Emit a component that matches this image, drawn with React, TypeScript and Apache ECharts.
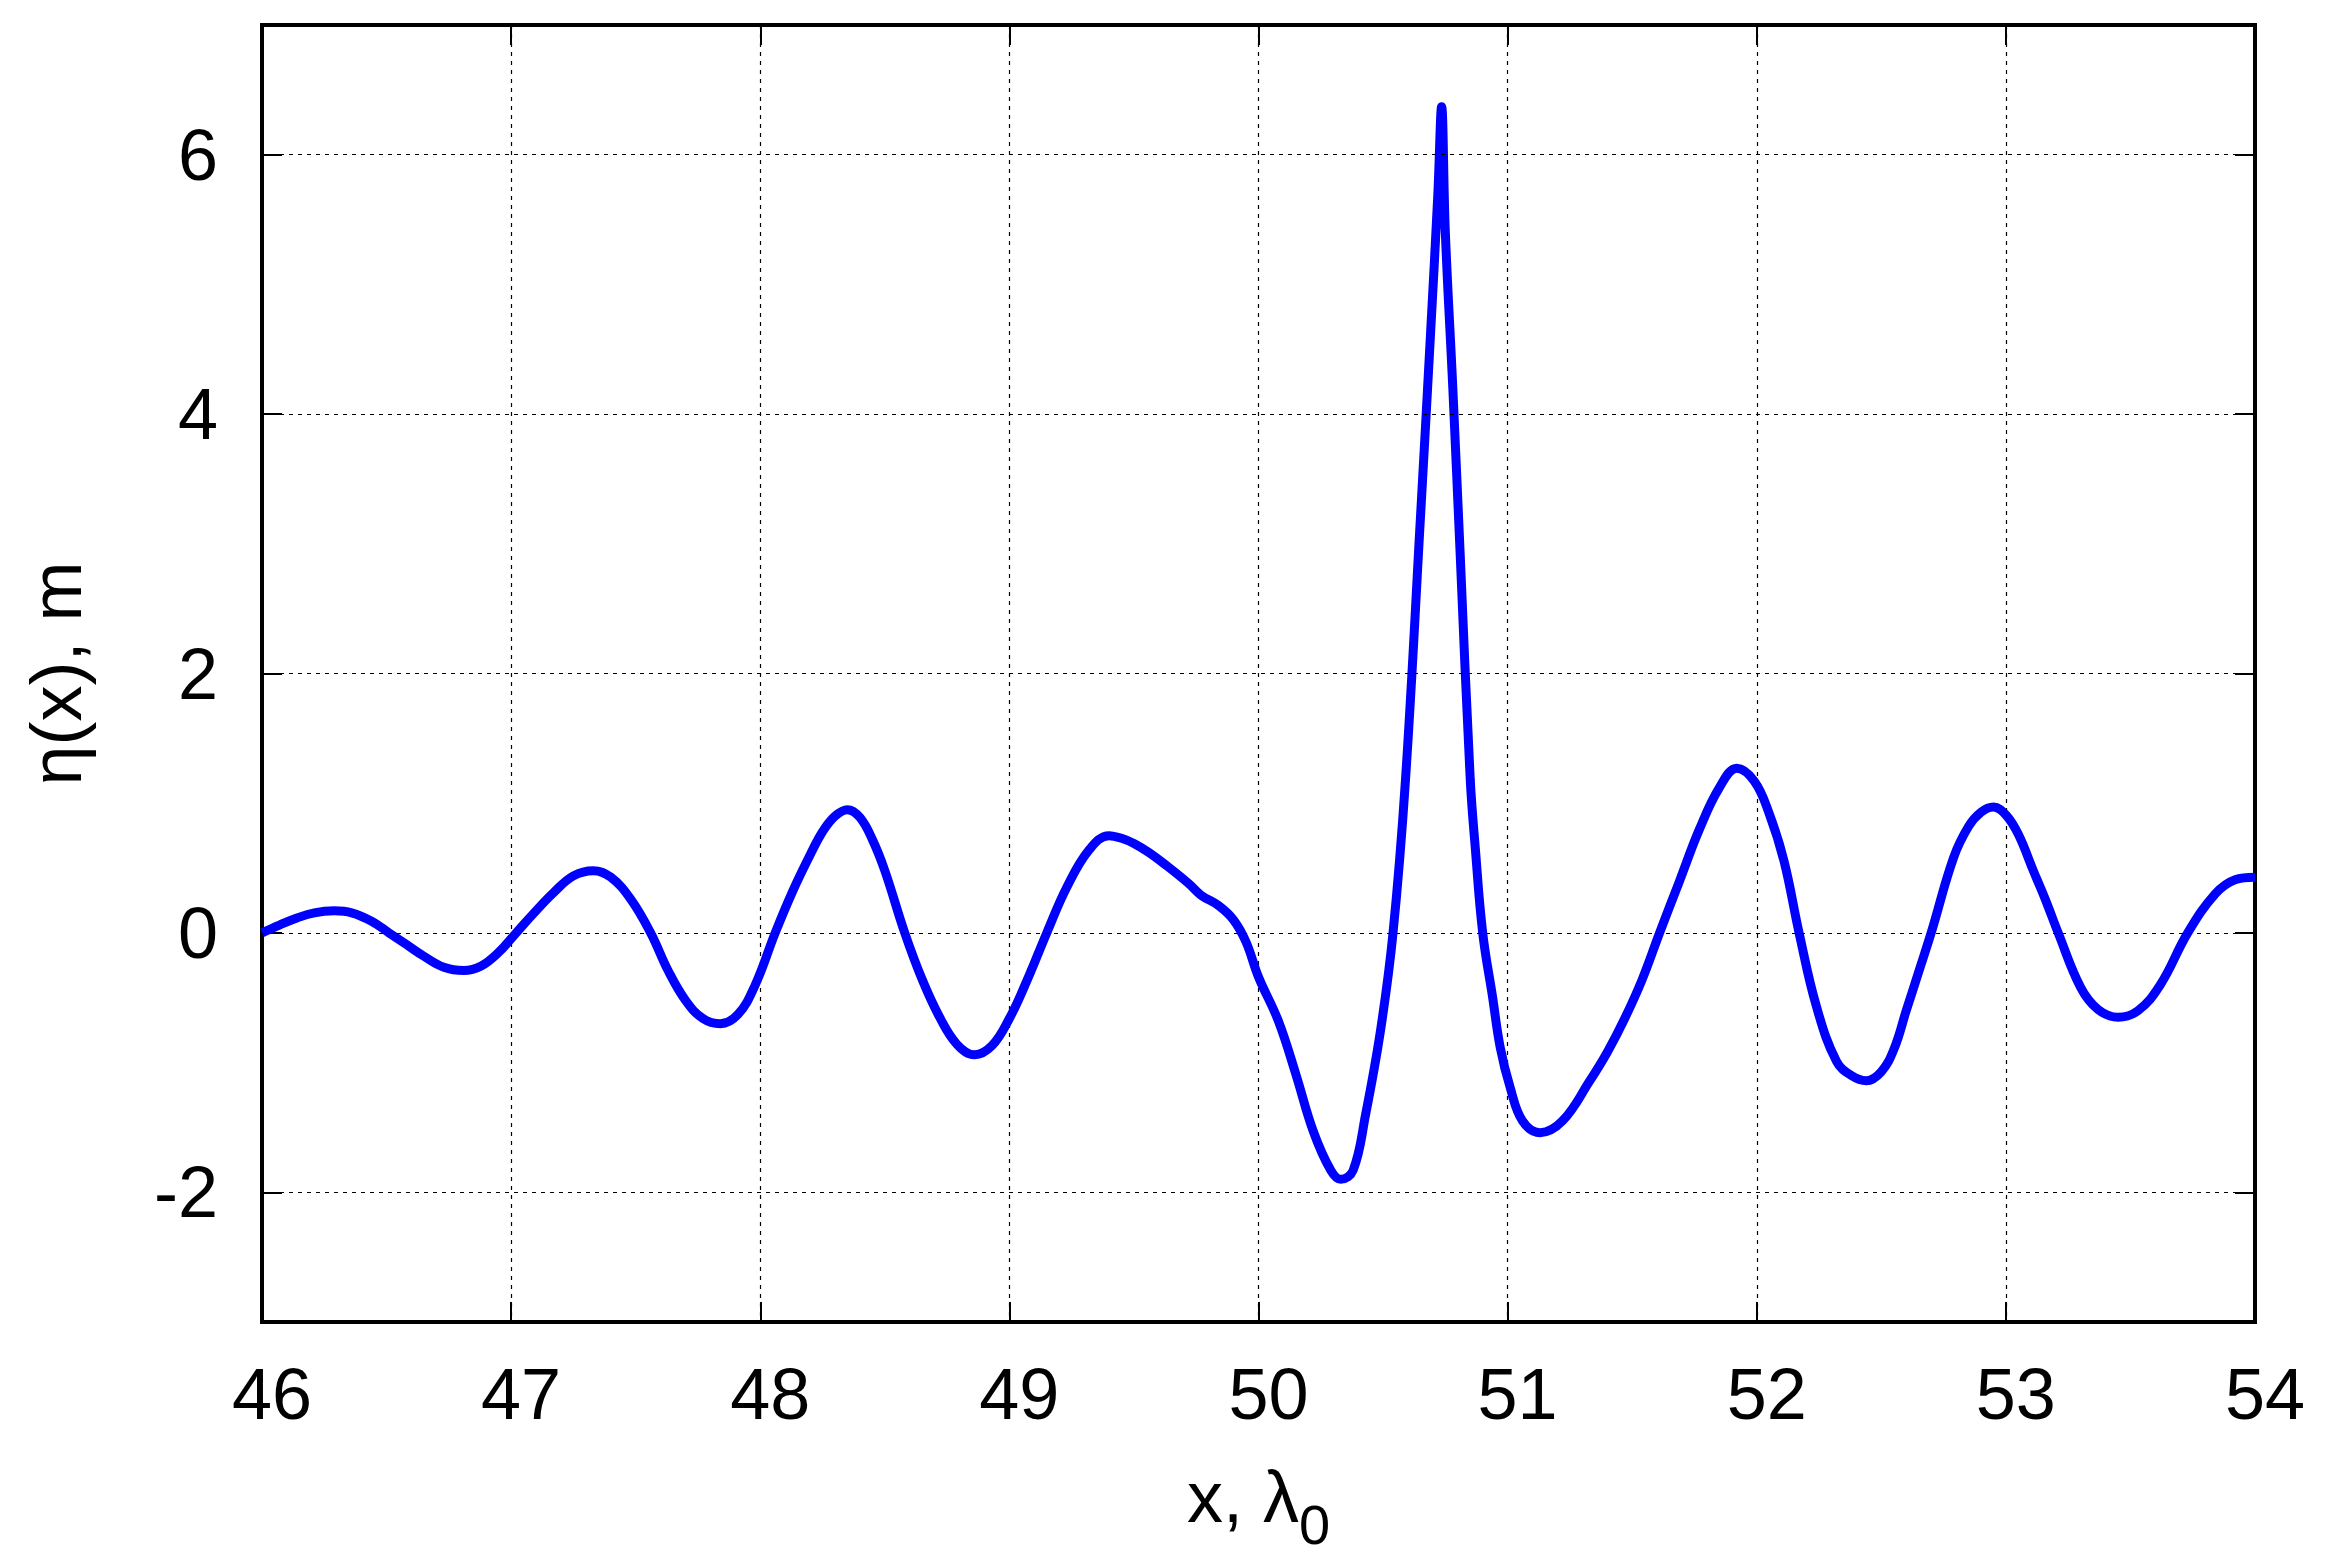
import { useEffect, useRef } from 'react';
import * as echarts from 'echarts';

// wave profile
const xValues = [
  46.0, 46.07, 46.14, 46.21, 46.29, 46.36, 46.44, 46.51, 46.58, 46.65,
  46.73, 46.81, 46.88, 46.95, 47.02, 47.09, 47.17, 47.25, 47.33, 47.4,
  47.48, 47.56, 47.63, 47.7, 47.77, 47.84, 47.91, 47.98, 48.06, 48.13,
  48.2, 48.25, 48.3, 48.35, 48.4, 48.45, 48.5, 48.58, 48.65, 48.72,
  48.79, 48.86, 48.93, 49.0, 49.07, 49.15, 49.23, 49.32, 49.4, 49.45,
  49.5, 49.56, 49.63, 49.72, 49.77, 49.84, 49.9, 49.95, 50.0, 50.08,
  50.15, 50.22, 50.29, 50.33, 50.38, 50.43, 50.49, 50.54, 50.59, 50.65,
  50.69, 50.72, 50.735, 50.75, 50.78, 50.81, 50.85, 50.87, 50.9, 50.94,
  50.97, 51.01, 51.06, 51.13, 51.22, 51.33, 51.4, 51.47, 51.54, 51.61,
  51.69, 51.77, 51.85, 51.92, 51.99, 52.05, 52.11, 52.17, 52.24, 52.32,
  52.38, 52.44, 52.5, 52.55, 52.6, 52.65, 52.7, 52.79, 52.85, 52.9,
  52.95, 53.0, 53.05, 53.11, 53.16, 53.21, 53.3, 53.37, 53.45, 53.53,
  53.62, 53.73, 53.84, 53.92, 54.0,
];
const etaValues = [
  0.0, 0.06, 0.115, 0.155, 0.17, 0.155, 0.09, 0.0, -0.09, -0.18,
  -0.265, -0.29, -0.255, -0.15, 0.0, 0.15, 0.31, 0.44, 0.48, 0.43,
  0.26, 0.0, -0.29, -0.52, -0.66, -0.7, -0.63, -0.4, 0.0, 0.32,
  0.6, 0.78, 0.9, 0.95, 0.89, 0.72, 0.48, 0.0, -0.36, -0.65,
  -0.86, -0.94, -0.87, -0.66, -0.37, 0.0, 0.35, 0.64, 0.75, 0.73,
  0.69, 0.62, 0.52, 0.38, 0.29, 0.21, 0.1, -0.07, -0.34, -0.68,
  -1.09, -1.53, -1.83, -1.9, -1.83, -1.4, -0.75, 0.0, 1.18, 3.2,
  4.6, 5.7, 6.37, 5.4, 4.2, 2.9, 1.18, 0.66, 0.0, -0.5,
  -0.88, -1.19, -1.45, -1.54, -1.45, -1.14, -0.92, -0.66, -0.36, 0.0,
  0.4, 0.8, 1.12, 1.27, 1.17, 0.92, 0.55, 0.0, -0.57, -0.99,
  -1.1, -1.14, -1.07, -0.9, -0.6, -0.3, 0.0, 0.58, 0.82, 0.93,
  0.97, 0.91, 0.76, 0.48, 0.25, 0.0, -0.42, -0.59, -0.65, -0.6,
  -0.4, 0.0, 0.3, 0.41, 0.43,
];
const yTicks = [-2, 0, 2, 4, 6];

function App() {
  const chartRef = useRef<HTMLDivElement>(null);

  useEffect(() => {
    const chart = echarts.init(chartRef.current, null, { renderer: 'svg' });
    const font = 'Liberation Sans';
    const gridDash = { color: '#000', width: 1.2, type: [4, 5] };
    const tick = { show: true, inside: true, length: 20, lineStyle: { color: '#000', width: 2 } };
    const noLine = { show: false, onZero: false };

    const option = {
      animation: false,
      backgroundColor: '#fff',
      grid: {
        left: 262,
        right: 77,
        top: 25,
        bottom: 239,
        containLabel: false,
        outerBoundsMode: 'none',
        show: true,
        borderColor: '#000',
        borderWidth: 4,
        backgroundColor: 'transparent',
      },
      xAxis: [
        {
          type: 'value',
          position: 'bottom',
          min: 46,
          max: 54,
          interval: 1,
          axisLine: noLine,
          axisTick: tick,
          axisLabel: {
            fontFamily: font,
            fontSize: 72,
            color: '#000',
            margin: 36,
            padding: [0, 0, 0, 20],
          },
          splitLine: { show: true, lineStyle: gridDash },
          name: '{a|x, λ}{s|0}',
          nameLocation: 'middle',
          nameGap: 139,
          nameMoveOverlap: false,
          nameTextStyle: {
            fontFamily: font,
            fontSize: 72,
            color: '#000',
            rich: {
              a: { fontFamily: font, fontSize: 72, lineHeight: 72, verticalAlign: 'top', color: '#000' },
              s: {
                fontFamily: font,
                fontSize: 56,
                lineHeight: 56,
                verticalAlign: 'top',
                padding: [35, 0, 0, 0],
                color: '#000',
              },
            },
          },
        },
        {
          type: 'value',
          position: 'top',
          min: 46,
          max: 54,
          interval: 1,
          axisLine: noLine,
          axisTick: tick,
          axisLabel: { show: false },
          splitLine: { show: false },
        },
      ],
      yAxis: [
        {
          type: 'value',
          position: 'left',
          min: -3,
          max: 7,
          axisLine: noLine,
          axisTick: { ...tick, customValues: yTicks },
          axisLabel: {
            customValues: yTicks,
            fontFamily: font,
            fontSize: 72,
            color: '#000',
            margin: 44,
          },
          splitLine: { show: false },
          name: 'η(x), m',
          nameLocation: 'middle',
          nameGap: 170,
          nameRotate: 90,
          nameMoveOverlap: false,
          nameTextStyle: { fontFamily: font, fontSize: 72, color: '#000' },
        },
        {
          type: 'value',
          position: 'right',
          min: -3,
          max: 7,
          axisLine: noLine,
          axisTick: { ...tick, customValues: yTicks },
          axisLabel: { show: false, customValues: yTicks },
          splitLine: { show: false },
        },
      ],
      series: [
        {
          type: 'line',
          data: [],
          z: 1,
          silent: true,
          markLine: {
            silent: true,
            symbol: ['none', 'none'],
            label: { show: false },
            lineStyle: gridDash,
            data: yTicks.map((v) => ({ yAxis: v })),
          },
        },
        {
          type: 'line',
          xAxisIndex: 0,
          yAxisIndex: 0,
          z: 3,
          data: xValues.map((x, i) => [x, etaValues[i]]),
          showSymbol: false,
          smooth: 0.4,
          lineStyle: { color: '#0000ff', width: 9 },
          itemStyle: { color: '#0000ff' },
        },
      ],
    };

    chart.setOption(option);

    return () => {
      chart.dispose();
    };
  }, []);

  return (
    <div
      ref={chartRef}
      style={{ position: 'fixed', left: 0, top: 0, width: '2332px', height: '1561px', background: '#fff' }}
    ></div>
  );
}

export default App;
